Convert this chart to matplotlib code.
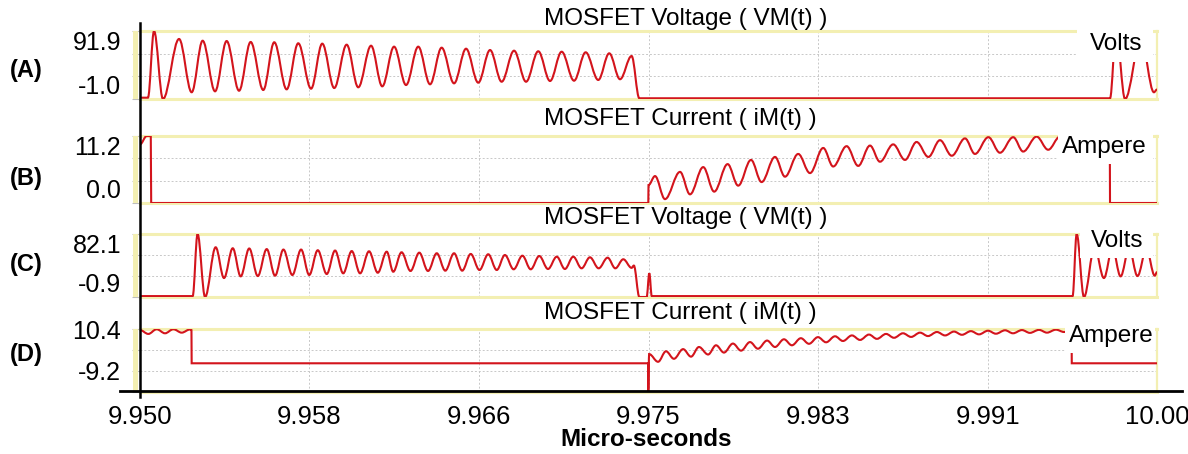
import numpy as np
import matplotlib.pyplot as plt
from matplotlib.path import Path
from matplotlib.patches import PathPatch, Rectangle
from matplotlib.lines import Line2D

plt.rcParams['font.family'] = ['Liberation Sans', 'DejaVu Sans']

W, H = 1188, 454
T0 = 9.95  # micro-seconds at the left edge

# ---- data: time in ns after 9.950 us ----
a_ns = [0.00, 0.39, 0.69, 1.13, 1.92, 2.54, 3.08, 3.69, 4.26, 4.87, 5.44, 6.06, 6.60, 7.21,
        7.78, 8.41, 8.96, 9.55, 10.16, 10.73, 11.36, 11.91, 12.49, 13.08, 13.68, 14.26,
        14.83, 15.44, 16.03, 16.63, 17.21, 17.78, 18.39, 18.98, 19.58, 20.16, 20.73, 21.34,
        21.91, 22.53, 23.07, 23.60, 24.17, 24.55, 47.69, 47.99, 48.43, 49.21, 49.85, 50.00]
a_v = [0.8, 0.8, 91.9, -1.0, 81.0, 8.2, 78.6, 9.5, 78.2, 10.3, 76.9, 11.3, 76.5, 12.2,
       75.1, 13.1, 74.6, 14.0, 73.2, 15.0, 71.8, 16.3, 70.5, 18.1, 70.5, 19.1,
       69.1, 20.4, 67.7, 21.3, 65.9, 22.6, 65.0, 22.6, 64.2, 23.6, 63.6, 24.0,
       62.8, 25.0, 61.4, 26.0, 57.7, 0.0, 0.0, 91.9, -1.0, 81.0, 8.2, 12.0]

b_ns = [0.00, 0.33, 0.53, 0.54, 0.55, 24.99, 25.00, 25.32, 25.81, 26.55, 27.04, 27.69,
        28.23, 28.89, 29.41, 30.04, 30.56, 31.22, 31.71, 32.36, 32.94, 33.59, 34.08, 34.74,
        35.31, 35.89, 36.38, 37.03, 37.61, 38.18, 38.76, 39.33, 39.91, 40.56, 41.05, 41.71,
        42.28, 42.93, 43.42, 44.08, 44.65, 45.23, 45.82, 46.41, 47.00, 47.59, 47.68, 47.69, 50.00]
b_v = [9.8, 11.2, 11.2, 5.7, 0.0, 0.0, 3.0, 4.5, 0.65, 5.2, 1.45, 6.0,
       1.9, 6.5, 2.9, 7.2, 3.5, 7.7, 4.4, 8.2, 5.0, 9.2, 6.1, 9.5,
       6.2, 9.6, 6.9, 9.8, 7.2, 10.2, 7.7, 10.5, 7.9, 10.8, 8.2, 11.0,
       8.4, 11.0, 8.6, 11.1, 8.9, 11.1, 9.0, 11.1, 9.0, 11.0, 10.0, 0.0, 0.0]

c_ns = [0.00, 2.59, 2.83, 3.20, 3.72, 4.13, 4.56, 4.95, 5.37, 5.79, 6.23, 6.64, 7.05, 7.49,
        7.92, 8.32, 8.74, 9.18, 9.59, 9.99, 10.41, 10.82, 11.26, 11.69, 12.13, 12.45, 12.86,
        13.30, 13.73, 14.16, 14.59, 15.01, 15.44, 15.84, 16.26, 16.69, 17.12, 17.54, 17.94,
        18.37, 18.80, 19.21, 19.63, 20.06, 20.49, 20.89, 21.30, 21.71, 22.12, 22.55, 22.99,
        23.37, 23.76, 24.17, 24.28, 24.55, 24.91, 25.04, 25.16, 45.85, 46.05, 46.41, 46.93,
        47.39, 47.81, 48.21, 48.63, 49.04, 49.48, 49.89, 50.00]
c_v = [0.3, 0.3, 82.1, -0.9, 64.6, 24.1, 63.3, 26.3, 63.0, 26.7, 62.2, 27.2, 61.6, 28.1,
       61.6, 28.1, 60.7, 29.4, 60.3, 30.3, 59.6, 30.3, 59.3, 31.1, 58.8, 32.4, 58.0,
       33.4, 57.5, 33.4, 56.7, 33.8, 56.7, 33.8, 55.8, 34.7, 55.4, 34.7, 54.4,
       35.6, 53.5, 35.6, 53.1, 36.0, 52.2, 36.0, 52.2, 36.9, 51.4, 36.9, 50.9,
       36.9, 48.8, 37.5, 40.5, -0.9, -0.9, 30.3, 0.3, 0.3, 82.1, -0.9, 64.6,
       24.1, 63.3, 26.3, 63.0, 26.7, 62.2, 27.2, 32.0]

d_ns = [0.00, 0.41, 0.82, 1.23, 1.64, 2.05, 2.46, 2.53, 2.54, 24.98, 24.99, 25.03,
        25.47, 25.86, 26.25, 26.70, 27.09, 27.48, 27.93, 28.32, 28.71, 29.15, 29.55, 29.99,
        30.38, 30.83, 31.22, 31.66, 32.05, 32.49, 32.89, 33.33, 33.73, 34.17, 34.56, 35.00,
        35.40, 35.84, 36.23, 36.68, 37.07, 37.51, 37.91, 38.35, 38.74, 39.18, 39.58, 40.02,
        40.41, 40.85, 41.25, 41.69, 42.08, 42.53, 42.92, 43.36, 43.75, 44.20, 44.59, 45.03,
        45.43, 45.80, 45.81, 50.00]
d_v = [9.9, 8.1, 10.3, 8.4, 10.3, 8.7, 10.2, 9.9, -5.6, -5.6, -18.5, -1.3,
       -4.9, 0.0, -3.5, 1.0, -2.5, 2.0, -1.5, 2.8, -0.6, 3.6, 0.3, 4.3,
       1.2, 5.0, 2.0, 5.6, 2.8, 6.1, 3.5, 6.6, 4.2, 7.0, 4.8, 7.4,
       5.3, 7.8, 5.8, 8.1, 6.3, 8.4, 6.7, 8.7, 7.1, 9.0, 7.4, 9.2,
       7.7, 9.4, 7.9, 9.6, 8.2, 9.8, 8.4, 9.9, 8.6, 10.0, 8.7, 10.1,
       9.0, 10.0, -5.6, -5.6]

x_ticks = [9.950, 9.95833, 9.96667, 9.975, 9.98333, 9.99167, 10.000]
x_labels = ['9.950', '9.958', '9.966', '9.975', '9.983', '9.991', '10.00']

titles = ['MOSFET Voltage ( VM(t) )', 'MOSFET Current ( iM(t) )',
          'MOSFET Voltage ( VM(t) )', 'MOSFET Current ( iM(t) )']
tags = ['(A)', '(B)', '(C)', '(D)']
units = ['Volts', 'Ampere', 'Volts', 'Ampere']
ylims = [(-1.0, 91.9), (0.0, 11.2), (-0.9, 82.1), (-19.0, 10.4)]
ylabels = [['-1.0', '', '', '91.9'], ['0.0', '', '', '11.2'],
           ['-0.9', '', '', '82.1'], ['', '-9.2', '', '10.4']]
series = [(a_ns, a_v), (b_ns, b_v), (c_ns, c_v), (d_ns, d_v)]

# ---- layout (pixels) ----
panel_px = [(31, 99), (136, 203), (234, 297), (329, 392)]
title_y = [19, 119, 218, 313]
tag_y = [70, 178, 264, 354]
unit_box = [(1077, 29, 1153, 62), (1058, 133, 1153, 164),
            (1080, 231, 1153, 258), (1065, 325, 1155, 353)]
unit_xy = [(1116, 43.5), (1104.7, 147), (1117, 241), (1111.5, 336)]

RED = '#d3141c'
YEL = '#f3efb2'
GRID = '#c8c8c8'


def fx(px):
    return px / W


def fy(py):
    return 1 - py / H


def smooth_path(t, v):
    # cubic segments with flat tangents at each read-off extremum
    verts = [(t[0], v[0])]
    codes = [Path.MOVETO]
    for i in range(1, len(t)):
        d = (t[i] - t[i - 1]) * 0.36
        verts += [(t[i - 1] + d, v[i - 1]), (t[i] - d, v[i]), (t[i], v[i])]
        codes += [Path.CURVE4] * 3
    return Path(verts, codes)


fig = plt.figure(figsize=(W / 100, H / 100), dpi=100)

for i in range(4):
    top, bot = panel_px[i]
    ax = fig.add_axes([fx(140), fy(bot), fx(1157) - fx(140), (bot - top) / H])
    lo, hi = ylims[i]
    ax.set_xlim(9.95, 10.0)
    ax.set_ylim(lo, hi)
    ax.set_yticks(np.linspace(lo, hi, 4))
    ax.set_yticklabels(ylabels[i], fontsize=18)
    ax.tick_params(axis='y', length=6, width=0.8, color='#bdbdbd', pad=7.5)
    lbls = ax.get_yticklabels()
    if i < 3:
        lbls[0].set_va('bottom')
        lbls[3].set_va('top')
    ax.set_xticks(x_ticks)
    if i == 3:
        ax.set_xticklabels(x_labels, fontsize=18.5)
        ax.tick_params(axis='x', length=0, pad=9.4)
    else:
        ax.tick_params(axis='x', length=0, labelbottom=False)
    ax.grid(True, color=GRID, ls=(0, (2, 2)), lw=0.7)
    ax.set_axisbelow(True)
    for s in ['top', 'bottom']:
        ax.spines[s].set_color(YEL)
        ax.spines[s].set_linewidth(2.2)
    ax.spines['right'].set_color(YEL)
    ax.spines['right'].set_linewidth(1.6)
    ax.spines['left'].set_visible(False)

    ns, v = series[i]
    t = [T0 + n / 1000 for n in ns]
    ax.add_patch(PathPatch(smooth_path(t, v), fill=False, edgecolor=RED, lw=1.5,
                           transform=ax.transData, zorder=3))

    # yellow strip left of the axis
    fig.add_artist(Rectangle((fx(133), fy(bot)), fx(138) - fx(133), (bot - top) / H,
                             transform=fig.transFigure, color=YEL, lw=0, zorder=0.5))

    fig.text(fx(544), fy(title_y[i]), titles[i], ha='left', va='center', fontsize=17.5)
    fig.text(fx(26.5), fy(tag_y[i]), tags[i], ha='center', va='center', fontsize=17,
             fontweight='bold')

    x0, y0, x1, y1 = unit_box[i]
    fig.add_artist(Rectangle((fx(x0), fy(y1)), fx(x1) - fx(x0), (y1 - y0) / H,
                             transform=fig.transFigure, color='white', lw=0, zorder=4))
    fig.text(fx(unit_xy[i][0]), fy(unit_xy[i][1]), units[i], ha='center', va='center',
             fontsize=17.5, zorder=5)

# black axis lines
fig.add_artist(Line2D([fx(140), fx(140)], [fy(23), fy(397)], color='black', lw=1.8, zorder=6))
fig.add_artist(Line2D([fx(120), fx(1182)], [fy(391), fy(391)], color='black', lw=2.0, zorder=6))

fig.text(fx(646), fy(439), 'Micro-seconds', ha='center', va='center', fontsize=17.5,
         fontweight='bold')

fig.savefig('out.png', dpi=100)
